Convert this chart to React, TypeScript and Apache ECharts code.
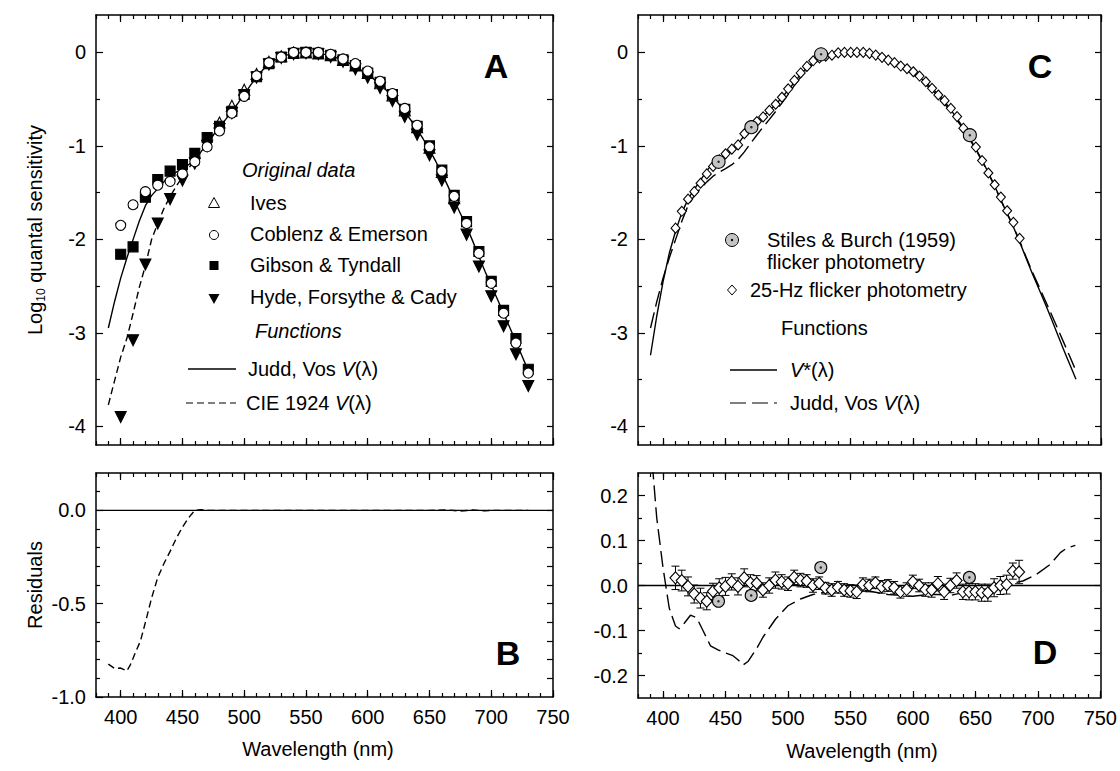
import React, { useEffect, useRef } from "react";
import * as echarts from "echarts";

const FONT = "'Liberation Sans', Arial, Helvetica, sans-serif";

// ---------- axes ticks ----------
const X_MAJOR = [400, 450, 500, 550, 600, 650, 700, 750];
const X_MINOR = [380, 390, 400, 410, 420, 430, 440, 450, 460, 470, 480, 490, 500, 510, 520, 530, 540, 550, 560, 570, 580, 590, 600, 610, 620, 630, 640, 650, 660, 670, 680, 690, 700, 710, 720, 730, 740, 750];
const A_Y_MAJOR = [-4, -3, -2, -1, 0];
const A_Y_MINOR = [-3.5, -2.5, -1.5, -0.5];
const A_Y_RIGHT = [-4, -3.5, -3, -2.5, -2, -1.5, -1, -0.5, 0];
const B_Y_MAJOR = [-1, -0.5, 0];
const B_Y_MINOR = [-0.9, -0.8, -0.7, -0.6, -0.4, -0.3, -0.2, -0.1, 0.1];
const B_Y_RIGHT = [-0.9, -0.8, -0.7, -0.6, -0.5, -0.4, -0.3, -0.2, -0.1, 0, 0.1];
const D_Y_MAJOR = [-0.2, -0.1, 0, 0.1, 0.2];
const D_Y_MINOR = [-0.15, -0.05, 0.05, 0.15];
const D_Y_RIGHT = [-0.2, -0.15, -0.1, -0.05, 0, 0.05, 0.1, 0.15, 0.2];

// ---------- functions (5 nm) ----------
const WL5 = [390, 395, 400, 405, 410, 415, 420, 425, 430, 435, 440, 445, 450, 455, 460, 465, 470, 475, 480, 485, 490, 495, 500, 505, 510, 515, 520, 525, 530, 535, 540, 545, 550, 555, 560, 565, 570, 575, 580, 585, 590, 595, 600, 605, 610, 615, 620, 625, 630, 635, 640, 645, 650, 655, 660, 665, 670, 675, 680, 685, 690, 695, 700, 705, 710, 715, 720, 725, 730];
const JUDD_VOS = [-2.948, -2.667, -2.415, -2.199, -2.003, -1.807, -1.64, -1.532, -1.457, -1.385, -1.324, -1.281, -1.243, -1.201, -1.144, -1.064, -0.973, -0.884, -0.798, -0.717, -0.632, -0.542, -0.45, -0.353, -0.265, -0.187, -0.125, -0.079, -0.048, -0.027, -0.013, -0.005, -0.002, -0.004, -0.01, -0.021, -0.037, -0.058, -0.084, -0.115, -0.151, -0.192, -0.238, -0.288, -0.343, -0.404, -0.471, -0.549, -0.636, -0.726, -0.823, -0.929, -1.043, -1.164, -1.294, -1.433, -1.581, -1.723, -1.862, -2.019, -2.184, -2.344, -2.492, -2.641, -2.791, -2.943, -3.097, -3.251, -3.407];
const V_STAR = [-3.24, -2.82, -2.455, -2.149, -1.913, -1.717, -1.57, -1.464, -1.367, -1.265, -1.186, -1.136, -1.093, -1.046, -0.979, -0.887, -0.813, -0.744, -0.683, -0.622, -0.557, -0.482, -0.405, -0.318, -0.235, -0.162, -0.105, -0.064, -0.033, -0.015, -0.003, 0, 0, 0, 0, -0.009, -0.022, -0.04, -0.064, -0.094, -0.129, -0.169, -0.214, -0.265, -0.323, -0.384, -0.451, -0.528, -0.614, -0.708, -0.808, -0.916, -1.032, -1.155, -1.287, -1.428, -1.58, -1.725, -1.867, -2.027, -2.196, -2.362, -2.517, -2.676, -2.838, -3.008, -3.175, -3.336, -3.496];
const CIE_WL = [390, 395, 400, 405, 410, 415, 420, 425, 430, 435, 440, 445, 450, 455, 460, 465, 470, 475, 480];
const CIE_1924 = [-3.77, -3.514, -3.26, -3.059, -2.793, -2.517, -2.281, -2.002, -1.829, -1.67, -1.541, -1.431, -1.333, -1.241, -1.144, -1.064, -0.973, -0.884, -0.798];

// ---------- Panel A original data (10 nm) ----------
const DATA_WL = [400, 410, 420, 430, 440, 450, 460, 470, 480, 490, 500, 510, 520, 530, 540, 550, 560, 570, 580, 590, 600, 610, 620, 630, 640, 650, 660, 670, 680, 690, 700, 710, 720, 730];
const COBLENTZ = [-1.85, -1.63, -1.49, -1.42, -1.38, -1.3, -1.17, -1.01, -0.84, -0.65, -0.47, -0.25, -0.11, -0.05, 0, 0, 0, -0.02, -0.07, -0.12, -0.2, -0.31, -0.44, -0.6, -0.78, -1.01, -1.27, -1.54, -1.83, -2.15, -2.47, -2.79, -3.11, -3.43];
const GIBSON = [-2.16, -2.08, -1.55, -1.36, -1.27, -1.2, -1.08, -0.91, -0.79, -0.63, -0.45, -0.26, -0.12, -0.05, -0.01, 0, -0.01, -0.03, -0.08, -0.14, -0.22, -0.32, -0.45, -0.61, -0.79, -1.0, -1.26, -1.53, -1.81, -2.13, -2.45, -2.76, -3.06, -3.39];
const HYDE = [-3.9, -3.08, -2.27, -1.83, -1.57, -1.37, -1.19, -1.0, -0.82, -0.65, -0.46, -0.27, -0.13, -0.06, -0.02, -0.01, -0.02, -0.05, -0.1, -0.18, -0.27, -0.38, -0.52, -0.69, -0.88, -1.1, -1.37, -1.66, -1.95, -2.29, -2.61, -2.93, -3.23, -3.57];
const IVES_WL = [480, 490, 500, 510, 520, 530, 540, 550, 560, 570, 580, 590, 600, 610, 620, 630, 640, 650, 660, 670];
const IVES = [-0.75, -0.57, -0.4, -0.23, -0.1, -0.04, 0, 0, -0.01, -0.03, -0.08, -0.14, -0.22, -0.33, -0.46, -0.62, -0.8, -1.02, -1.28, -1.56];

// ---------- Panel B residuals (CIE 1924 - Judd-Vos) ----------
const RES_WL = [390, 395, 400, 405, 408, 412, 416, 420, 425, 430, 435, 440, 445, 450, 455, 460, 465, 470, 480, 500, 550, 600, 650, 665, 675, 685, 695, 700, 710, 730];
const RES_CIE = [-0.824, -0.847, -0.845, -0.86, -0.825, -0.76, -0.7, -0.6, -0.47, -0.36, -0.285, -0.22, -0.15, -0.09, -0.04, 0, 0.004, 0, 0, 0, 0, 0, 0, 0.002, -0.004, 0.002, -0.003, 0, 0, 0];

// ---------- Panel C / D data ----------
const F25_WL = [410, 415, 420, 425, 430, 435, 440, 445, 450, 455, 460, 465, 470, 475, 480, 485, 490, 495, 500, 505, 510, 515, 520, 525, 530, 535, 540, 545, 550, 555, 560, 565, 570, 575, 580, 585, 590, 595, 600, 605, 610, 615, 620, 625, 630, 635, 640, 645, 650, 655, 660, 665, 670, 675, 680, 685];
const F25 = [-1.88, -1.7, -1.57, -1.49, -1.4, -1.3, -1.22, -1.15, -1.085, -1.035, -0.99, -0.87, -0.81, -0.74, -0.69, -0.62, -0.555, -0.48, -0.39, -0.3, -0.22, -0.15, -0.09, -0.06, -0.04, -0.03, -0.005, 0, 0, 0, 0, -0.011, -0.029, -0.053, -0.082, -0.11, -0.146, -0.175, -0.207, -0.253, -0.314, -0.384, -0.456, -0.516, -0.598, -0.687, -0.811, -0.9, -1.013, -1.157, -1.29, -1.416, -1.548, -1.694, -1.818, -1.989];
const F25_RES = [0.017, 0.011, -0.002, -0.019, -0.028, -0.035, -0.013, -0.005, -0.002, 0.008, -0.002, 0.017, 0.006, 0.005, -0.01, 0, 0.012, 0.008, 0.004, 0.018, 0.012, 0.01, 0, 0.005, -0.006, -0.01, -0.004, -0.01, -0.012, -0.014, 0.002, 0, 0.006, -0.003, 0, -0.005, -0.014, -0.009, 0.008, 0, -0.009, -0.01, 0.004, -0.014, 0, 0.011, -0.014, -0.014, -0.014, -0.016, -0.016, -0.005, 0, 0.002, 0.032, 0.03];
const F25_ERR = [0.026, 0.023, 0.021, 0.02, 0.022, 0.019, 0.018, 0.02, 0.02, 0.018, 0.019, 0.02, 0.018, 0.017, 0.016, 0.017, 0.018, 0.016, 0.015, 0.016, 0.015, 0.014, 0.015, 0.014, 0.013, 0.014, 0.013, 0.014, 0.014, 0.015, 0.015, 0.014, 0.013, 0.014, 0.013, 0.014, 0.014, 0.015, 0.015, 0.014, 0.015, 0.016, 0.016, 0.017, 0.016, 0.017, 0.017, 0.018, 0.018, 0.019, 0.019, 0.02, 0.02, 0.021, 0.018, 0.026];
const SB_WL = [444.4, 470.6, 526.3, 645.2];
const SB_C = [-1.17, -0.8, -0.02, -0.886];
const SB_D = [-0.035, -0.022, 0.04, 0.018];
const JV_RES_WL = [390, 395, 400, 405, 410, 413, 417, 422, 427, 432, 438, 444, 450, 456, 460, 464, 468, 475, 480, 485, 490, 495, 500, 510, 520, 530, 540, 550, 560, 570, 580, 590, 600, 612, 620, 630, 638, 646, 656, 667, 678, 688, 699, 710, 718, 723, 730];
const JV_RES = [0.32, 0.15, 0.04, -0.05, -0.09, -0.096, -0.084, -0.066, -0.072, -0.1, -0.134, -0.143, -0.15, -0.156, -0.165, -0.177, -0.169, -0.14, -0.115, -0.095, -0.075, -0.06, -0.045, -0.03, -0.02, -0.015, -0.01, -0.006, -0.01, -0.015, -0.02, -0.022, -0.024, -0.02, -0.02, -0.022, -0.017, -0.013, -0.009, -0.005, 0.004, 0.01, 0.025, 0.047, 0.073, 0.083, 0.089];
const ZERO_WL = [380, 750];
const ZERO = [0, 0];

const zip = (xs: number[], ys: number[]) => xs.map((x, i) => [x, ys[i]]);

const GRIDS = [
  { left: 96, top: 15, width: 457, height: 430 },
  { left: 96, top: 473, width: 457, height: 224 },
  { left: 638, top: 15, width: 463, height: 430 },
  { left: 638, top: 473, width: 463, height: 225 },
];

const AX_LINE = { show: true, onZero: false, lineStyle: { color: "#000", width: 1.5 } };
const NO_LINE = { show: false, onZero: false };
const TICK_STYLE = { color: "#000", width: 1.2 };
const LABEL = { fontSize: 20, fontFamily: FONT, color: "#000", margin: 10 };

function xAxes(g: number, labels: boolean) {
  const base = { type: "value", gridIndex: g, min: 380, max: 750, splitLine: { show: false } };
  return [
    { ...base, position: "bottom", axisLine: AX_LINE, axisTick: { show: true, inside: true, length: 7, customValues: X_MAJOR, lineStyle: TICK_STYLE }, axisLabel: { show: labels, customValues: X_MAJOR, ...LABEL } },
    { ...base, position: "bottom", axisLine: NO_LINE, axisTick: { show: true, inside: true, length: 4, customValues: X_MINOR, lineStyle: TICK_STYLE }, axisLabel: { show: false } },
    { ...base, position: "top", axisLine: AX_LINE, axisTick: { show: true, inside: true, length: 7, customValues: X_MAJOR, lineStyle: TICK_STYLE }, axisLabel: { show: false } },
    { ...base, position: "top", axisLine: NO_LINE, axisTick: { show: true, inside: true, length: 4, customValues: X_MINOR, lineStyle: TICK_STYLE }, axisLabel: { show: false } },
  ];
}

function yAxes(g: number, min: number, max: number, major: number[], minor: number[], right: number[], fmt: (v: number) => string) {
  const base = { type: "value", gridIndex: g, min, max, splitLine: { show: false } };
  return [
    { ...base, position: "left", axisLine: AX_LINE, axisTick: { show: true, inside: true, length: 7, customValues: major, lineStyle: TICK_STYLE }, axisLabel: { show: true, customValues: major, formatter: fmt, ...LABEL } },
    { ...base, position: "left", axisLine: NO_LINE, axisTick: { show: true, inside: true, length: 4, customValues: minor, lineStyle: TICK_STYLE }, axisLabel: { show: false } },
    { ...base, position: "right", axisLine: AX_LINE, axisTick: { show: true, inside: true, length: 6, customValues: right, lineStyle: TICK_STYLE }, axisLabel: { show: false } },
  ];
}

const ax = (g: number) => ({ xAxisIndex: g * 4, yAxisIndex: g * 3 });

function lineSeries(g: number, data: number[][], dash: any, z = 2) {
  return { type: "line", ...ax(g), data, showSymbol: false, symbol: "none", silent: true, z, lineStyle: { color: "#000", width: 1.4, type: dash }, clip: true };
}

function scatter(g: number, data: number[][], symbol: string, size: number | number[], fill: string, z: number, rotate = 0) {
  return { type: "scatter", ...ax(g), data, symbol, symbolSize: size, symbolRotate: rotate, z, silent: true, itemStyle: { color: fill, borderColor: "#000", borderWidth: 1.1, opacity: 1 } };
}

const txt = (x: number, y: number, text: string, extra: any = {}) => ({
  type: "text", x, y, z: 100, silent: true,
  style: { text, fontSize: 20, fontFamily: FONT, fill: "#000", verticalAlign: "middle", align: "left", rich: { i: { fontStyle: "italic", fontSize: 20, fontFamily: FONT } }, ...extra },
});

function buildOption() {
  const xA = [...xAxes(0, false), ...xAxes(1, true), ...xAxes(2, false), ...xAxes(3, true)];
  const yA = [
    ...yAxes(0, -4.2, 0.4, A_Y_MAJOR, A_Y_MINOR, A_Y_RIGHT, (v) => String(v)),
    ...yAxes(1, -1.0, 0.2, B_Y_MAJOR, B_Y_MINOR, B_Y_RIGHT, (v) => v.toFixed(1)),
    ...yAxes(2, -4.2, 0.4, A_Y_MAJOR, A_Y_MINOR, A_Y_RIGHT, (v) => String(v)),
    ...yAxes(3, -0.25, 0.25, D_Y_MAJOR, D_Y_MINOR, D_Y_RIGHT, (v) => v.toFixed(1)),
  ];

  const series: any[] = [
    // Panel A
    lineSeries(0, zip(WL5, JUDD_VOS), "solid"),
    lineSeries(0, zip(CIE_WL, CIE_1924), [7, 4]),
    scatter(0, zip(IVES_WL, IVES), "triangle", 11, "#fff", 4),
    scatter(0, zip(DATA_WL, HYDE), "triangle", 11, "#000", 5, 180),
    scatter(0, zip(DATA_WL, GIBSON), "rect", 10, "#000", 6),
    scatter(0, zip(DATA_WL, COBLENTZ), "circle", 10, "#fff", 7),
    // Panel B
    lineSeries(1, zip(ZERO_WL, ZERO), "solid"),
    lineSeries(1, zip(RES_WL, RES_CIE), [7, 4]),
    // Panel C
    lineSeries(2, zip(WL5, V_STAR), "solid"),
    lineSeries(2, zip(WL5, JUDD_VOS), [16, 6]),
    scatter(2, zip(F25_WL, F25), "diamond", [9, 10], "#fff", 5),
    scatter(2, zip(SB_WL, SB_C), "circle", 13, "#c4c4c4", 6),
    { type: "scatter", ...ax(2), data: zip(SB_WL, SB_C), symbol: "circle", symbolSize: 2.5, z: 7, silent: true, itemStyle: { color: "#000" } },
    // Panel D
    lineSeries(3, zip(ZERO_WL, ZERO), "solid"),
    lineSeries(3, zip(JV_RES_WL, JV_RES), [16, 6]),
    {
      type: "custom", ...ax(3), z: 4, silent: true,
      data: F25_WL.map((w, i) => [w, F25_RES[i] - F25_ERR[i], F25_RES[i] + F25_ERR[i]]),
      encode: { x: 0, y: [1, 2] },
      renderItem: (_p: any, api: any) => {
        const x = api.value(0);
        const a = api.coord([x, api.value(2)]);
        const b = api.coord([x, api.value(1)]);
        const c = 4;
        const st = { stroke: "#000", lineWidth: 1 };
        return {
          type: "group",
          children: [
            { type: "line", shape: { x1: a[0], y1: a[1], x2: b[0], y2: b[1] }, style: st },
            { type: "line", shape: { x1: a[0] - c, y1: a[1], x2: a[0] + c, y2: a[1] }, style: st },
            { type: "line", shape: { x1: b[0] - c, y1: b[1], x2: b[0] + c, y2: b[1] }, style: st },
          ],
        };
      },
    },
    scatter(3, zip(F25_WL, F25_RES), "diamond", [11, 12], "#fff", 5),
    scatter(3, zip(SB_WL, SB_D), "circle", 12, "#c4c4c4", 6),
    { type: "scatter", ...ax(3), data: zip(SB_WL, SB_D), symbol: "circle", symbolSize: 2.5, z: 7, silent: true, itemStyle: { color: "#000" } },
  ];

  const graphic: any[] = [
    // axis titles
    { type: "text", x: 35, y: 230, rotation: Math.PI / 2, z: 100, silent: true, style: { text: "Log{s|10} quantal sensitivity", fontSize: 20, fontFamily: FONT, fill: "#000", align: "center", verticalAlign: "middle", lineHeight: 24, rich: { s: { fontSize: 12, fontFamily: FONT, verticalAlign: "bottom", lineHeight: 24 } } } },
    { type: "text", x: 35, y: 585, rotation: Math.PI / 2, z: 100, silent: true, style: { text: "Residuals", fontSize: 20, fontFamily: FONT, fill: "#000", align: "center", verticalAlign: "middle" } },
    txt(318, 749, "Wavelength (nm)", { align: "center" }),
    txt(862, 751, "Wavelength (nm)", { align: "center" }),
    // panel letters
    txt(496, 66, "A", { fontSize: 34, fontWeight: "bold", align: "center" }),
    txt(508, 653, "B", { fontSize: 34, fontWeight: "bold", align: "center" }),
    txt(1040, 66, "C", { fontSize: 34, fontWeight: "bold", align: "center" }),
    txt(1045, 652, "D", { fontSize: 34, fontWeight: "bold", align: "center" }),
    // legend A
    txt(242, 170, "Original data", { fontStyle: "italic" }),
    { type: "polygon", z: 100, silent: true, shape: { points: [[214, 197.5], [208.5, 207.5], [219.5, 207.5]] }, style: { fill: "#fff", stroke: "#000", lineWidth: 1 } },
    txt(250, 203, "Ives"),
    { type: "circle", z: 100, silent: true, shape: { cx: 214, cy: 235, r: 4.5 }, style: { fill: "#fff", stroke: "#000", lineWidth: 1 } },
    txt(250, 234, "Coblenz & Emerson"),
    { type: "rect", z: 100, silent: true, shape: { x: 209.5, y: 261, width: 9, height: 9 }, style: { fill: "#000" } },
    txt(250, 265, "Gibson & Tyndall"),
    { type: "polygon", z: 100, silent: true, shape: { points: [[208.5, 294], [219.5, 294], [214, 304]] }, style: { fill: "#000" } },
    txt(250, 297, "Hyde, Forsythe & Cady"),
    txt(255, 331, "Functions", { fontStyle: "italic" }),
    { type: "line", z: 100, silent: true, shape: { x1: 188, y1: 369, x2: 236, y2: 369 }, style: { stroke: "#000", lineWidth: 1.4 } },
    txt(248, 369, "Judd, Vos {i|V}(λ)"),
    { type: "line", z: 100, silent: true, shape: { x1: 186, y1: 403, x2: 236, y2: 403 }, style: { stroke: "#000", lineWidth: 1.2, lineDash: [7, 4] } },
    txt(246, 403, "CIE 1924 {i|V}(λ)"),
    // legend C
    { type: "circle", z: 100, silent: true, shape: { cx: 732, cy: 240, r: 6.5 }, style: { fill: "#c4c4c4", stroke: "#000", lineWidth: 1 } },
    { type: "circle", z: 101, silent: true, shape: { cx: 732, cy: 240, r: 1.2 }, style: { fill: "#000" } },
    txt(767, 240, "Stiles & Burch (1959)"),
    txt(767, 262, "flicker photometry"),
    { type: "polygon", z: 100, silent: true, shape: { points: [[732, 285], [736.5, 290], [732, 295], [727.5, 290]] }, style: { fill: "#fff", stroke: "#000", lineWidth: 1 } },
    txt(750, 290, "25-Hz flicker photometry"),
    txt(781, 328, "Functions"),
    { type: "line", z: 100, silent: true, shape: { x1: 730, y1: 370, x2: 777, y2: 370 }, style: { stroke: "#000", lineWidth: 1.4 } },
    txt(790, 370, "{i|V}*(λ)"),
    { type: "line", z: 100, silent: true, shape: { x1: 730, y1: 403, x2: 777, y2: 403 }, style: { stroke: "#000", lineWidth: 1.2, lineDash: [16, 6] } },
    txt(790, 403, "Judd, Vos {i|V}(λ)"),
  ];

  return {
    animation: false,
    backgroundColor: "#fff",
    grid: GRIDS.map((g) => ({ ...g, containLabel: false })),
    xAxis: xA,
    yAxis: yA,
    series,
    graphic,
  };
}

export default function App() {
  const ref = useRef<HTMLDivElement>(null);
  useEffect(() => {
    const chart = echarts.init(ref.current!, null, { renderer: "svg" });
    chart.setOption(buildOption() as any);
    return () => chart.dispose();
  }, []);
  return <div ref={ref} style={{ position: "fixed", left: 0, top: 0, width: 1120, height: 771, background: "#fff" }} />;
}
